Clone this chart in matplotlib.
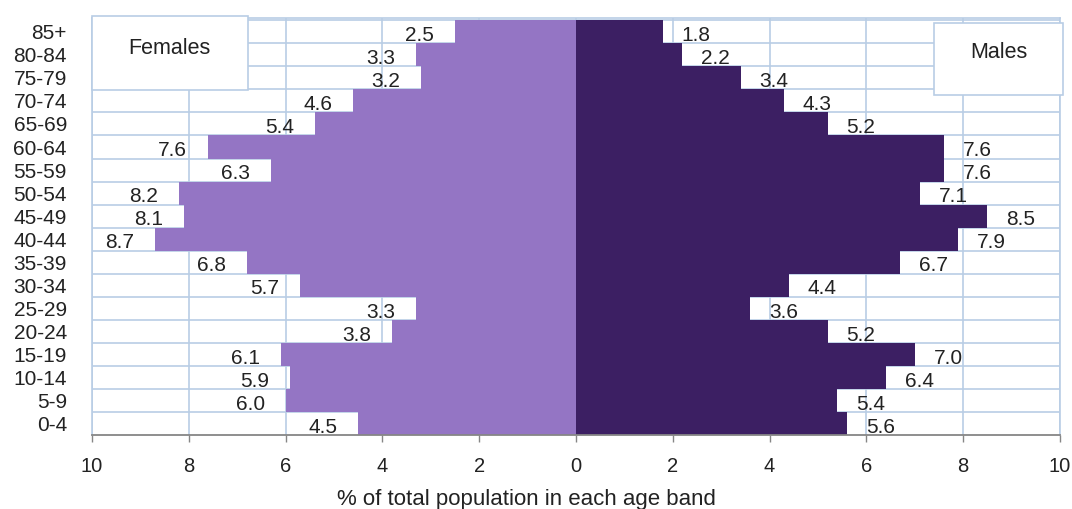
import matplotlib
matplotlib.use("Agg")
import matplotlib.pyplot as plt
from matplotlib.patches import Rectangle
import numpy as np

age_bands = ["0-4", "5-9", "10-14", "15-19", "20-24", "25-29", "30-34", "35-39",
             "40-44", "45-49", "50-54", "55-59", "60-64", "65-69", "70-74",
             "75-79", "80-84", "85+"]
females = [4.5, 6.0, 5.9, 6.1, 3.8, 3.3, 5.7, 6.8, 8.7, 8.1, 8.2, 6.3, 7.6, 5.4,
           4.6, 3.2, 3.3, 2.5]
males = [5.6, 5.4, 6.4, 7.0, 5.2, 3.6, 4.4, 6.7, 7.9, 8.5, 7.1, 7.6, 7.6, 5.2,
         4.3, 3.4, 2.2, 1.8]
x_ticks = [-10, -8, -6, -4, -2, 0, 2, 4, 6, 8, 10]
x_tick_labels = ["10", "8", "6", "4", "2", "0", "2", "4", "6", "8", "10"]
x_label = "% of total population in each age band"

plt.rcParams['font.family'] = ['Liberation Sans', 'DejaVu Sans']

FEMALE_COL = "#9475C4"
MALE_COL = "#3C1F63"
GRID_COL = "#B9CDE5"
TEXT_COL = "#222222"

fig = plt.figure(figsize=(10.72, 5.09), dpi=100)
ax = fig.add_axes([92 / 1072, 1 - 435 / 509, 968 / 1072, 417 / 509])

y = np.arange(len(age_bands))
f_vals = -np.array(females)
m_vals = np.array(males)

ax.barh(y, f_vals, height=1.0, color=FEMALE_COL, zorder=2, linewidth=0)
ax.barh(y, m_vals, height=1.0, color=MALE_COL, zorder=2, linewidth=0)

ax.set_xlim(-10, 10)
ax.set_ylim(-0.5, 17.6)

ax.set_xticks(x_ticks)
ax.set_xticklabels(x_tick_labels, fontsize=14.5, color=TEXT_COL)
ax.set_yticks(y)
ax.set_yticklabels(age_bands, fontsize=15, color=TEXT_COL)
ax.set_yticks(np.arange(len(age_bands)) + 0.5, minor=True)
ax.tick_params(axis='y', which='both', length=0, pad=18)
ax.tick_params(axis='x', which='major', direction='out', length=5, width=1,
               color="#868686", pad=11)

ax.grid(axis='x', which='major', color=GRID_COL, linewidth=1.2, zorder=0)
ax.grid(axis='y', which='minor', color=GRID_COL, linewidth=1.2, zorder=0)
ax.set_axisbelow(True)

for side in ['top', 'left', 'right']:
    ax.spines[side].set_color(GRID_COL)
    ax.spines[side].set_linewidth(1.2)
ax.spines['bottom'].set_color("#868686")
ax.spines['bottom'].set_linewidth(1.3)

ax.set_xlabel(x_label, fontsize=16, color=TEXT_COL, labelpad=9)
ax.xaxis.label.set_x(0.449)

# data labels
for yi, v in zip(y, females):
    ax.annotate(f"{v:.1f}", xy=(-v, yi), xytext=(-15, -2.7), textcoords='offset points',
                ha='right', va='center', fontsize=15, color=TEXT_COL, zorder=3)
for yi, v in zip(y, males):
    ax.annotate(f"{v:.1f}", xy=(v, yi), xytext=(13.5, -2.7), textcoords='offset points',
                ha='left', va='center', fontsize=15, color=TEXT_COL, zorder=3)

# Females / Males label boxes
ax.add_patch(Rectangle((0.0, 0.827), 0.161, 0.178, transform=ax.transAxes,
                       facecolor='white', edgecolor=GRID_COL, linewidth=1.2,
                       zorder=4, clip_on=False))
ax.text(0.080, 0.928, "Females", transform=ax.transAxes, ha='center', va='center',
        fontsize=15.5, color=TEXT_COL, zorder=5)
ax.add_patch(Rectangle((0.870, 0.815), 0.133, 0.173, transform=ax.transAxes,
                       facecolor='white', edgecolor=GRID_COL, linewidth=1.2,
                       zorder=4, clip_on=False))
ax.text(0.937, 0.918, "Males", transform=ax.transAxes, ha='center', va='center',
        fontsize=15.5, color=TEXT_COL, zorder=5)

fig.savefig("out.png", dpi=100)
